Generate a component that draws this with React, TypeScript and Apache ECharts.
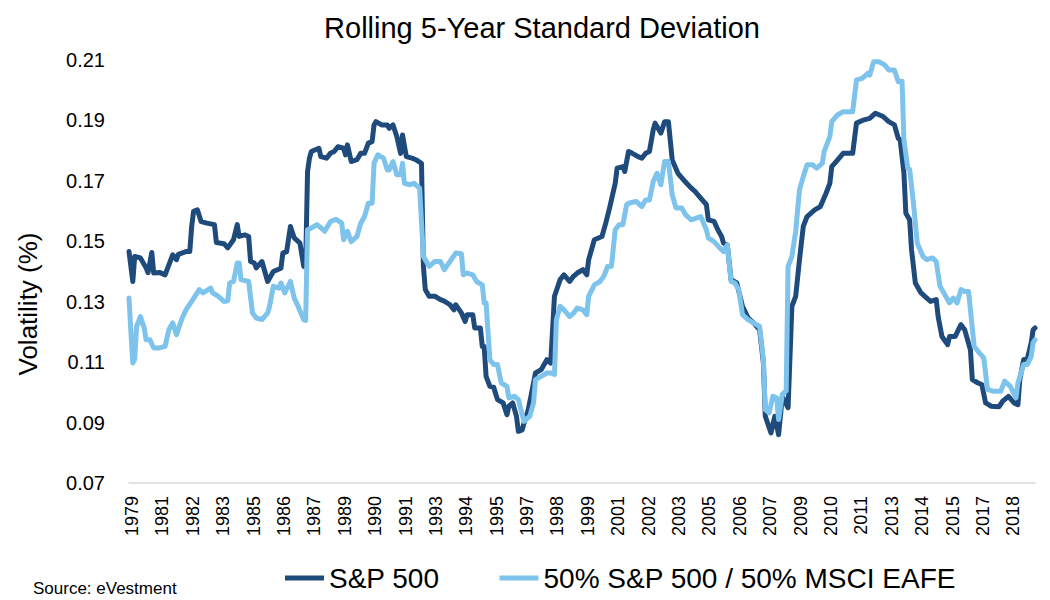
import React, { useEffect, useRef } from "react";
import * as echarts from "echarts";

// X positions are month offsets from the first observation (Sep 1979); one tick label every 16 months
const yearTicks = [
  "1979", "1981", "1982", "1983", "1985", "1986", "1987", "1989", "1990", "1991",
  "1993", "1994", "1995", "1997", "1998", "1999", "2001", "2002", "2003", "2005",
  "2006", "2007", "2009", "2010", "2011", "2013", "2014", "2015", "2017", "2018",
];
const lastMonth = 477;

const sp500Name = "S&P 500";
const blendName = "50% S&P 500 / 50% MSCI EAFE";

const sp500Points: [number, number][] = [
  [0, 0.1466], [2, 0.1367], [3, 0.145], [6, 0.1445], [9, 0.1412], [10, 0.1396], [12, 0.1463], [13, 0.1395],
  [16, 0.1397], [19, 0.1389], [23, 0.1455], [25, 0.1439], [26, 0.1457], [30, 0.1466], [32, 0.1466], [33, 0.1549],
  [34, 0.1599], [36, 0.1604], [38, 0.1565], [41, 0.156], [45, 0.1555], [46, 0.1496], [50, 0.1492], [52, 0.1478],
  [55, 0.1505], [57, 0.1555], [58, 0.1516], [61, 0.1521], [63, 0.1516], [64, 0.1433], [66, 0.1428], [67, 0.1412],
  [70, 0.1433], [73, 0.1367], [76, 0.14], [80, 0.1411], [81, 0.1461], [83, 0.1466], [85, 0.1549], [87, 0.1511],
  [90, 0.1494], [92, 0.1417], [93, 0.142], [94, 0.173], [95, 0.1775], [96, 0.1797], [100, 0.1808], [101, 0.178],
  [104, 0.1775], [106, 0.1791], [108, 0.1797], [110, 0.1813], [113, 0.1808], [114, 0.1786], [115, 0.1819], [117, 0.1764],
  [120, 0.177], [122, 0.1791], [124, 0.1791], [126, 0.1825], [128, 0.183], [129, 0.1885], [130, 0.1896], [133, 0.1885],
  [136, 0.1885], [137, 0.1874], [139, 0.1885], [141, 0.1847], [143, 0.1791], [144, 0.1852], [146, 0.178], [149, 0.1775],
  [151, 0.177], [154, 0.1758], [155, 0.1417], [156, 0.134], [158, 0.1318], [161, 0.1318], [164, 0.1307], [166, 0.1302],
  [169, 0.129], [171, 0.1273], [172, 0.129], [175, 0.1263], [177, 0.1235], [178, 0.1257], [181, 0.1257], [182, 0.1213],
  [185, 0.1213], [186, 0.1152], [187, 0.1152], [188, 0.1053], [190, 0.102], [192, 0.1017], [194, 0.0976], [197, 0.0965],
  [199, 0.0926], [200, 0.0954], [202, 0.0965], [204, 0.0921], [205, 0.0871], [207, 0.0876], [208, 0.0899], [210, 0.0937],
  [213, 0.1031], [214, 0.1064], [217, 0.1075], [220, 0.1108], [222, 0.1097], [224, 0.1318], [227, 0.1373], [229, 0.1389],
  [232, 0.1367], [234, 0.1384], [236, 0.1395], [239, 0.1406], [241, 0.1389], [242, 0.1439], [245, 0.1505], [249, 0.1516],
  [251, 0.156], [253, 0.161], [256, 0.1692], [257, 0.1742], [260, 0.1747], [261, 0.1731], [263, 0.1797], [265, 0.1791],
  [268, 0.178], [270, 0.1775], [272, 0.1791], [274, 0.1797], [276, 0.1869], [277, 0.1891], [280, 0.1858], [282, 0.1896],
  [284, 0.1896], [286, 0.1769], [289, 0.1725], [292, 0.1703], [296, 0.1676], [298, 0.1665], [301, 0.1643], [304, 0.1621],
  [305, 0.1571], [308, 0.1566], [310, 0.1538], [312, 0.1516], [313, 0.1494], [315, 0.1488], [317, 0.1373], [320, 0.1362],
  [323, 0.1285], [326, 0.1246], [329, 0.1229], [332, 0.1207], [334, 0.1097], [335, 0.0921], [338, 0.0866], [340, 0.0921],
  [342, 0.086], [344, 0.0987], [347, 0.0949], [349, 0.1285], [351, 0.1318], [353, 0.1439], [355, 0.1549], [357, 0.1582],
  [361, 0.1604], [364, 0.1615], [367, 0.1659], [369, 0.1692], [370, 0.1747], [373, 0.1769], [376, 0.1791], [381, 0.1791],
  [383, 0.1891], [387, 0.1902], [390, 0.1907], [393, 0.1924], [397, 0.1913], [400, 0.1896], [403, 0.1885], [405, 0.1841],
  [406, 0.1836], [408, 0.1725], [409, 0.1593], [411, 0.1571], [412, 0.1472], [414, 0.1362], [417, 0.1329], [419, 0.1318],
  [422, 0.1301], [425, 0.1307], [426, 0.1251], [428, 0.1185], [431, 0.1158], [432, 0.1185], [435, 0.1185], [438, 0.1224],
  [440, 0.1207], [443, 0.1141], [444, 0.1042], [447, 0.1031], [449, 0.1026], [451, 0.0965], [454, 0.0954], [458, 0.0952],
  [460, 0.0971], [463, 0.0987], [466, 0.0965], [468, 0.0959], [469, 0.1042], [471, 0.1108], [473, 0.1112], [475, 0.1164],
  [476, 0.1207], [477, 0.1213],
];

const blendPoints: [number, number][] = [
  [0, 0.1312], [1, 0.12], [2, 0.1097], [3, 0.111], [4, 0.1218], [6, 0.1251], [8, 0.1213], [9, 0.1174],
  [11, 0.1174], [13, 0.1147], [16, 0.1147], [19, 0.1152], [21, 0.1207], [23, 0.123], [25, 0.1191], [28, 0.1246],
  [30, 0.1273], [33, 0.1301], [37, 0.134], [39, 0.1329], [43, 0.1345], [44, 0.1329], [47, 0.1318], [50, 0.1301],
  [52, 0.1303], [53, 0.1362], [55, 0.1367], [57, 0.1428], [58, 0.1428], [59, 0.1373], [63, 0.1367], [65, 0.1263],
  [67, 0.1246], [70, 0.1241], [73, 0.1263], [74, 0.1285], [76, 0.1351], [79, 0.1345], [80, 0.1362], [82, 0.1329],
  [85, 0.1367], [87, 0.1312], [89, 0.1285], [92, 0.124], [93, 0.1238], [94, 0.1538], [96, 0.1544], [99, 0.1555],
  [101, 0.1545], [103, 0.1533], [106, 0.1565], [109, 0.1573], [112, 0.156], [113, 0.1505], [115, 0.1533], [117, 0.1499],
  [120, 0.1516], [122, 0.156], [124, 0.1582], [126, 0.1626], [128, 0.1626], [129, 0.1758], [131, 0.1786], [134, 0.1775],
  [136, 0.1736], [137, 0.1736], [139, 0.1764], [141, 0.172], [143, 0.172], [144, 0.1758], [145, 0.1692], [148, 0.1687],
  [150, 0.1692], [153, 0.1676], [155, 0.145], [157, 0.1428], [158, 0.1417], [161, 0.1433], [164, 0.1433], [166, 0.1406],
  [169, 0.1433], [172, 0.1461], [175, 0.1459], [176, 0.1389], [178, 0.1395], [181, 0.1389], [183, 0.1367], [186, 0.1356],
  [187, 0.1296], [188, 0.1296], [190, 0.1108], [192, 0.1092], [194, 0.1092], [196, 0.1031], [199, 0.102], [200, 0.0982],
  [203, 0.0987], [205, 0.0976], [207, 0.0926], [208, 0.0904], [211, 0.0921], [213, 0.0965], [214, 0.1042], [217, 0.1053],
  [220, 0.1064], [222, 0.1064], [224, 0.1059], [225, 0.124], [227, 0.1285], [229, 0.1273], [232, 0.1251], [234, 0.1262],
  [236, 0.1279], [239, 0.1273], [241, 0.1257], [242, 0.1318], [245, 0.1356], [248, 0.1367], [250, 0.1384], [252, 0.1417],
  [254, 0.1417], [256, 0.1538], [258, 0.1555], [260, 0.1555], [262, 0.1621], [263, 0.1626], [267, 0.1632], [270, 0.1615],
  [272, 0.1637], [274, 0.1637], [276, 0.1698], [278, 0.1725], [280, 0.1687], [282, 0.1764], [284, 0.1764], [286, 0.1654],
  [288, 0.161], [291, 0.161], [293, 0.1588], [296, 0.1571], [298, 0.1575], [301, 0.1582], [304, 0.1538], [305, 0.1511],
  [308, 0.1499], [311, 0.1478], [313, 0.1466], [315, 0.1488], [317, 0.1367], [319, 0.1362], [321, 0.134], [323, 0.1257],
  [326, 0.124], [329, 0.1229], [332, 0.1218], [334, 0.1108], [335, 0.0943], [337, 0.0932], [339, 0.0987], [341, 0.0982],
  [342, 0.091], [344, 0.0994], [346, 0.1005], [347, 0.1417], [349, 0.145], [351, 0.1533], [353, 0.167], [355, 0.1714],
  [357, 0.1753], [360, 0.1753], [362, 0.1742], [365, 0.1758], [366, 0.1797], [369, 0.1847], [370, 0.1896], [373, 0.1918],
  [376, 0.1929], [381, 0.1929], [383, 0.2034], [386, 0.2039], [389, 0.2056], [390, 0.205], [392, 0.2094], [395, 0.2094],
  [398, 0.2083], [400, 0.2067], [403, 0.2067], [405, 0.2028], [407, 0.203], [408, 0.1836], [410, 0.1742], [411, 0.1738],
  [413, 0.1626], [415, 0.1494], [418, 0.145], [420, 0.1439], [423, 0.1445], [425, 0.1433], [427, 0.1351], [430, 0.1318],
  [432, 0.1296], [434, 0.1312], [436, 0.1296], [438, 0.134], [440, 0.1334], [442, 0.1334], [445, 0.1152], [447, 0.1136],
  [450, 0.1114], [452, 0.1009], [455, 0.1004], [459, 0.1004], [461, 0.1037], [464, 0.102], [467, 0.0982], [468, 0.1031],
  [471, 0.1092], [473, 0.1092], [475, 0.1119], [476, 0.1164], [477, 0.1174],
];

const FONT = "'Liberation Sans', Arial, Helvetica, sans-serif";
const DARK = "#1F4A7C";
const LIGHT = "#7DC3EC";

export default function App() {
  const ref = useRef<HTMLDivElement>(null);

  useEffect(() => {
    if (!ref.current) return;
    const chart = echarts.init(ref.current, undefined, { renderer: "svg" });
    chart.setOption({
      animation: false,
      backgroundColor: "#ffffff",
      textStyle: { fontFamily: FONT },
      title: {
        text: "Rolling 5-Year Standard Deviation",
        left: 537,
        top: 8,
        textAlign: "center",
        textStyle: { fontFamily: FONT, fontSize: 29, fontWeight: "normal", color: "#000000" },
      },
      grid: { left: 129, right: 15, top: 60, bottom: 117, containLabel: false },
      legend: {
        data: [
          { name: sp500Name, icon: "rect", itemStyle: { color: DARK } },
          { name: blendName, icon: "rect", itemStyle: { color: LIGHT } },
        ],
        left: 280,
        top: 559,
        itemWidth: 39,
        itemHeight: 5,
        itemGap: 60,
        textStyle: { fontFamily: FONT, fontSize: 28, color: "#000000" },
      },
      xAxis: {
        type: "value",
        min: 0,
        max: lastMonth,
        interval: 16,
        axisLine: { show: true, lineStyle: { color: "#D9D9D9", width: 1.5 } },
        axisTick: { show: false },
        splitLine: { show: false },
        axisLabel: {
          rotate: 90,
          margin: 13,
          fontSize: 18,
          color: "#000000",
          fontFamily: FONT,
          showMaxLabel: false,
          verticalAlign: "top",
          lineHeight: 6,
          formatter: (v: number) => (v % 16 === 0 ? yearTicks[v / 16] ?? "" : ""),
        },
      },
      yAxis: {
        type: "value",
        min: 0.07,
        max: 0.21,
        interval: 0.02,
        axisLine: { show: false },
        axisTick: { show: false },
        splitLine: { show: false },
        axisLabel: {
          margin: 24,
          fontSize: 20,
          color: "#000000",
          fontFamily: FONT,
          formatter: (v: number) => v.toFixed(2),
        },
      },
      series: [
        {
          name: sp500Name,
          type: "line",
          data: sp500Points,
          symbol: "none",
          color: DARK,
          lineStyle: { width: 5, color: DARK, cap: "round", join: "round" },
          z: 2,
        },
        {
          name: blendName,
          type: "line",
          data: blendPoints,
          symbol: "none",
          color: LIGHT,
          lineStyle: { width: 5, color: LIGHT, cap: "round", join: "round" },
          z: 3,
        },
      ],
      graphic: [
        {
          type: "text",
          x: 28,
          y: 304,
          rotation: Math.PI / 2,
          style: {
            text: "Volatility (%)",
            fontFamily: FONT,
            fontSize: 26,
            fill: "#000000",
            align: "center",
            verticalAlign: "middle",
          },
        },
        {
          type: "text",
          left: 33,
          top: 580,
          style: { text: "Source: eVestment", fontFamily: FONT, fontSize: 17, fill: "#000000" },
        },
      ],
    });
    return () => chart.dispose();
  }, []);

  return (
    <div
      ref={ref}
      style={{ position: "fixed", left: 0, top: 0, width: 1050, height: 600, background: "#fff" }}
    />
  );
}
